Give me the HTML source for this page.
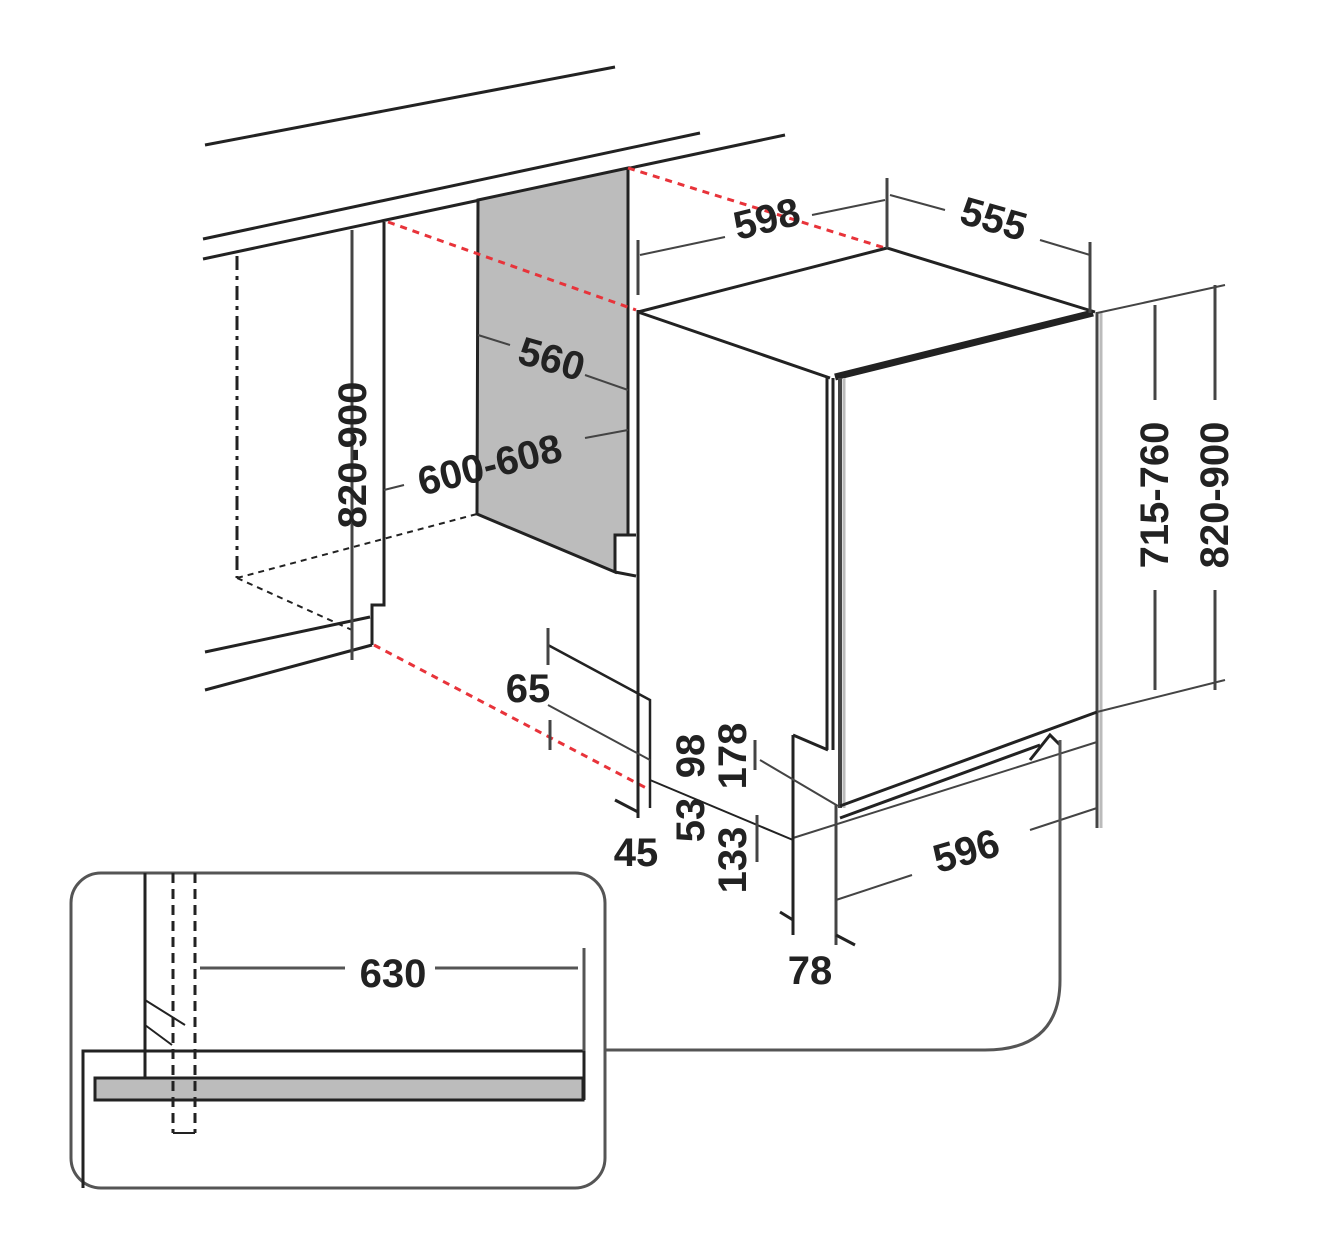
<!DOCTYPE html>
<html><head><meta charset="utf-8"><style>
html,body{margin:0;padding:0;background:#fff}
svg{display:block}
text{font-family:"Liberation Sans",sans-serif;font-weight:bold;fill:#222;font-size:40px}
</style></head><body>
<svg width="1336" height="1240" viewBox="0 0 1336 1240" xmlns="http://www.w3.org/2000/svg">
<g stroke="#222" fill="none" stroke-width="3">
<!-- counter lines -->
<line x1="205" y1="145" x2="615" y2="67"/>
<line x1="203" y1="239" x2="700" y2="133"/>
<line x1="203" y1="259" x2="785" y2="135"/>
<line x1="205" y1="652" x2="370" y2="617"/>
<line x1="205" y1="690" x2="372" y2="645"/>
<!-- left dashed cabinet -->
<line x1="237" y1="256" x2="237" y2="578" stroke-dasharray="14,6,4,6"/>
<line x1="237" y1="578" x2="352" y2="630" stroke-dasharray="6,5" stroke-width="2"/>
<line x1="237" y1="578" x2="477" y2="514" stroke-dasharray="6,5" stroke-width="2"/>
<!-- cabinet side -->
<polyline points="384,222 384,605 372,605 372,645"/>
<!-- gray panel -->
<polygon points="478,200 628,168 628,535 615,535 615,572 477,514" fill="#bcbcbc" stroke-width="3"/>
<line x1="615" y1="535" x2="636" y2="535"/>
<line x1="615" y1="572" x2="636" y2="576"/>
<!-- red dashed -->
<g stroke="#e8333a" stroke-dasharray="7,6" stroke-width="3">
<line x1="628" y1="168" x2="885" y2="248"/>
<line x1="388" y1="222" x2="636" y2="310"/>
<line x1="374" y1="645" x2="650" y2="790"/>
</g>
<!-- dishwasher -->
<line x1="638" y1="310" x2="638" y2="818"/>
<line x1="638" y1="312" x2="887" y2="248"/>
<line x1="887" y1="248" x2="1095" y2="312"/>
<line x1="638" y1="312" x2="830" y2="378"/>
<line x1="835" y1="377" x2="1093" y2="313" stroke-width="7"/>
<line x1="1097" y1="312" x2="1097" y2="828" stroke="#444"/>
<line x1="1101" y1="312" x2="1101" y2="828" stroke="#bbb" stroke-width="3"/>
<line x1="827" y1="378" x2="827" y2="750"/>
<line x1="833" y1="378" x2="833" y2="750"/>
<line x1="840" y1="378" x2="840" y2="808" stroke="#444" stroke-width="4"/>
<line x1="844" y1="378" x2="844" y2="808" stroke="#bbb" stroke-width="3"/>
<line x1="840" y1="806" x2="1097" y2="712"/>
<line x1="840" y1="818" x2="1040" y2="745"/>
<line x1="793" y1="838" x2="1097" y2="742" stroke="#444" stroke-width="2"/>
<line x1="793" y1="735" x2="828" y2="750"/>
<polyline points="1030,760 1050,735 1060,745"/>
<!-- plinth dims -->
<line x1="793" y1="735" x2="793" y2="935"/>
<line x1="836" y1="805" x2="836" y2="945" stroke="#444"/>
<line x1="780" y1="912" x2="793" y2="920" stroke-width="3"/>
<line x1="836" y1="935" x2="855" y2="945"/>
<line x1="760" y1="760" x2="838" y2="806" stroke="#444" stroke-width="2"/>
<line x1="650" y1="780" x2="793" y2="840" stroke-width="2"/>
<line x1="755" y1="740" x2="755" y2="770" stroke="#444"/>
<line x1="757" y1="815" x2="757" y2="862" stroke="#444"/>
<!-- 65/45 -->
<polyline points="548,645 650,700 650,808" stroke-width="2.5"/>
<line x1="548" y1="628" x2="548" y2="665" stroke="#444"/>
<line x1="548" y1="705" x2="650" y2="760" stroke="#444" stroke-width="2"/>
<line x1="550" y1="720" x2="550" y2="750" stroke="#444"/>
<line x1="615" y1="800" x2="638" y2="812"/>
<!-- left 820-900 dim -->
<line x1="352" y1="230" x2="352" y2="660" stroke="#444"/>
<!-- 560 / 600-608 leaders -->
<line x1="478" y1="335" x2="510" y2="345" stroke="#444" stroke-width="2"/>
<line x1="585" y1="375" x2="628" y2="390" stroke="#444" stroke-width="2"/>
<line x1="384" y1="490" x2="404" y2="485" stroke="#444" stroke-width="2"/>
<line x1="585" y1="438" x2="628" y2="430" stroke="#444" stroke-width="2"/>
<!-- 598 -->
<line x1="638" y1="240" x2="638" y2="295" stroke="#444"/>
<line x1="640" y1="255" x2="725" y2="237" stroke="#444" stroke-width="2"/>
<line x1="812" y1="215" x2="885" y2="200" stroke="#444" stroke-width="2"/>
<line x1="887" y1="178" x2="887" y2="248" stroke="#444"/>
<!-- 555 -->
<line x1="890" y1="195" x2="945" y2="210" stroke="#444" stroke-width="2"/>
<line x1="1040" y1="240" x2="1090" y2="255" stroke="#444" stroke-width="2"/>
<line x1="1090" y1="242" x2="1090" y2="313" stroke="#444"/>
<!-- right dims -->
<line x1="1097" y1="313" x2="1225" y2="285" stroke="#444" stroke-width="2"/>
<line x1="1155" y1="305" x2="1155" y2="400" stroke="#444"/>
<line x1="1155" y1="590" x2="1155" y2="690" stroke="#444"/>
<line x1="1215" y1="285" x2="1215" y2="400" stroke="#444"/>
<line x1="1215" y1="590" x2="1215" y2="690" stroke="#444"/>
<line x1="1097" y1="712" x2="1225" y2="680" stroke="#444" stroke-width="2"/>
<!-- 596 -->
<line x1="836" y1="900" x2="912" y2="875" stroke="#444" stroke-width="2"/>
<line x1="1030" y1="830" x2="1097" y2="808" stroke="#444" stroke-width="2"/>
<!-- connector -->
<path d="M1060,740 L1060,980 Q1060,1050 985,1050 L605,1050" stroke="#555"/>
<!-- inset -->
<rect x="71" y="873" width="534" height="315" rx="30" stroke="#555" stroke-width="3"/>
<polyline points="83,1188 83,1051 584,1051 584,1100" stroke-width="3"/>
<rect x="95" y="1078" width="488" height="22" fill="#bcbcbc" stroke-width="3"/>
<line x1="145" y1="873" x2="145" y2="1078"/>
<line x1="173" y1="873" x2="173" y2="1133" stroke-dasharray="10,6"/>
<line x1="195" y1="873" x2="195" y2="1133" stroke-dasharray="10,6"/>
<line x1="173" y1="1133" x2="195" y2="1133" stroke-width="2"/>
<line x1="145" y1="1000" x2="185" y2="1025" stroke-width="2"/>
<line x1="145" y1="1025" x2="172" y2="1045" stroke-width="2"/>
<line x1="584" y1="948" x2="584" y2="1051" stroke="#555"/>
<line x1="200" y1="968" x2="345" y2="968" stroke="#555"/>
<line x1="435" y1="968" x2="578" y2="968" stroke="#555"/>
</g>
<!-- labels -->
<text x="770" y="232" transform="rotate(-14 770 232)" text-anchor="middle">598</text>
<text x="990" y="232" transform="rotate(16 990 232)" text-anchor="middle">555</text>
<text x="548" y="372" transform="rotate(16 548 372)" text-anchor="middle">560</text>
<text x="493" y="478" transform="rotate(-14 493 478)" text-anchor="middle">600-608</text>
<text x="366" y="455" transform="rotate(-90 366 455)" text-anchor="middle">820-900</text>
<text x="1168" y="495" transform="rotate(-90 1168 495)" text-anchor="middle">715-760</text>
<text x="1228" y="495" transform="rotate(-90 1228 495)" text-anchor="middle">820-900</text>
<text x="970" y="864" transform="rotate(-16 970 864)" text-anchor="middle">596</text>
<text x="528" y="702" text-anchor="middle">65</text>
<text x="636" y="866" text-anchor="middle">45</text>
<text x="810" y="984" text-anchor="middle">78</text>
<text x="393" y="987" text-anchor="middle">630</text>
<text x="704" y="756" transform="rotate(-90 704 756)" text-anchor="middle" font-size="34">98</text>
<text x="704" y="820" transform="rotate(-90 704 820)" text-anchor="middle" font-size="34">53</text>
<text x="746" y="756" transform="rotate(-90 746 756)" text-anchor="middle" font-size="34">178</text>
<text x="746" y="860" transform="rotate(-90 746 860)" text-anchor="middle" font-size="34">133</text>
</svg>
</body></html>
